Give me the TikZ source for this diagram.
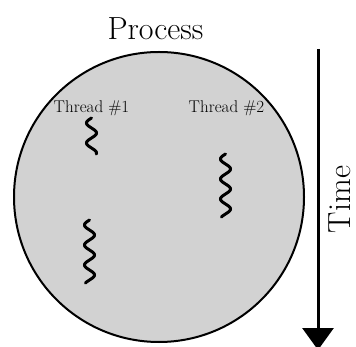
\documentclass[tikz,border=0pt]{standalone}
\usepackage{fontspec}
\usetikzlibrary{arrows.meta}
\tikzset{
  proc/.style={circle, draw=black, line width=2pt, fill=gray!35, minimum size=290pt, inner sep=0pt},
  squig/.style={line width=3pt, line cap=round, black},
  tlabel/.style={font=\fontsize{17}{20}\selectfont\addfontfeatures{FakeBold=1.2}, anchor=base, inner sep=0pt, text=black},
  biglabel/.style={font=\fontsize{32}{38}\selectfont\addfontfeatures{FakeBold=0.8}, anchor=base, inner sep=0pt, text depth=0pt},
  timearrow/.style={line width=3pt, -{Triangle[width=31pt,length=22pt]}}
}
\begin{document}
\begin{tikzpicture}[x=1pt,y=-1pt]
\useasboundingbox (0,0) rectangle (356,347);
\node (process) [proc] at (159,197) {};
\node (ptitle) [biglabel] at (155.5,39.3) {Process};
\node (t1) [tlabel] at (91.5,112.5) {Thread \#1};
\node (t2) [tlabel] at (226.5,112.5) {Thread \#2};
% squiggles (angle = 18 deg per pt, period 20pt)
\draw[squig] plot[domain=-5:31, samples=80, smooth] ({91.5-5*cos(18*\x)}, {123+\x});
\draw[squig] plot[domain=-5:58, samples=120, smooth] ({89.5-5*cos(18*\x)}, {225+\x});
\draw[squig] plot[domain=-5:58, samples=120, smooth] ({225.5-5*cos(18*\x)}, {159+\x});
% time arrow
\coordinate (tstart) at (318,49);
\coordinate (tend) at (318,350);
\draw[timearrow] (tstart) -- (tend);
\node (time) [biglabel, rotate=90] at (350.5,199.5) {Time};
\end{tikzpicture}
\end{document}
